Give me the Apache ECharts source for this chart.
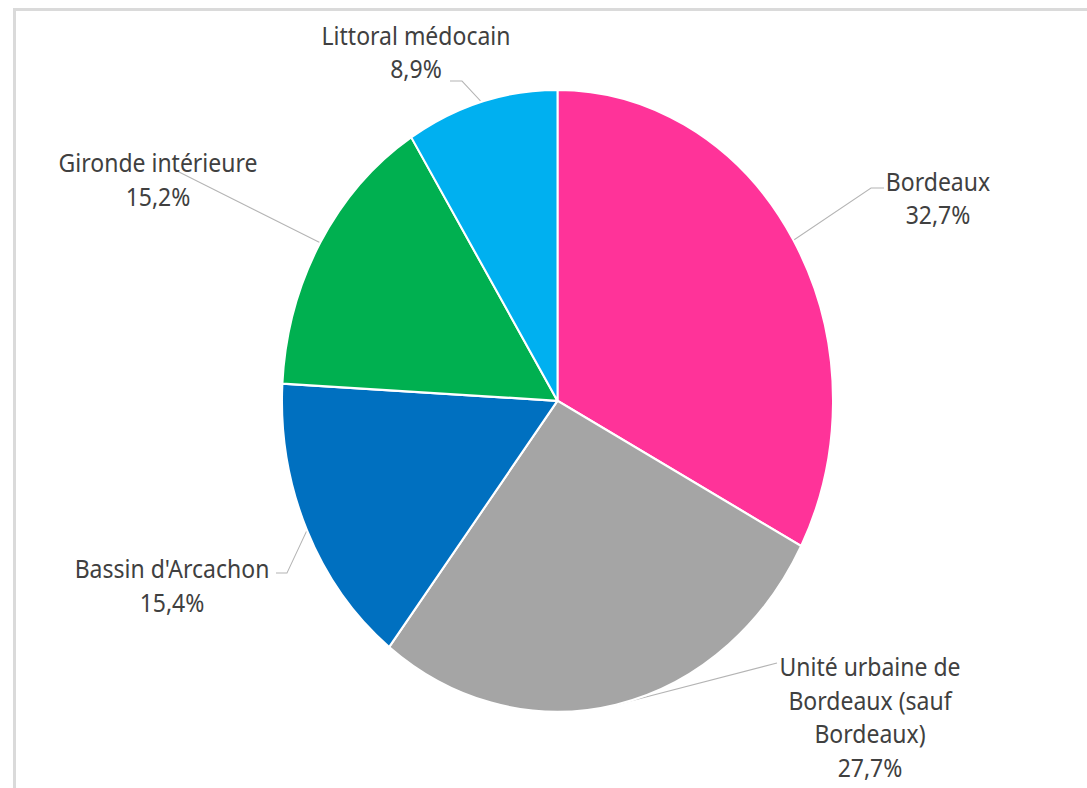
<!DOCTYPE html>
<html>
<head>
<meta charset="utf-8">
<script src="https://cdn.jsdelivr.net/npm/echarts@6/dist/echarts.min.js"></script>
<style>
  html, body { margin: 0; padding: 0; background: #ffffff; overflow: hidden; }
  #frame { position: absolute; left: 13px; top: 8px; width: 1200px; height: 900px;
           border-left: 3px solid #dadada; border-top: 3px solid #dadada; box-sizing: border-box; }
  #chart { position: absolute; left: 0; top: 0; width: 1087px; height: 698px;
           transform: scaleY(1.129); transform-origin: 0 0; }
</style>
</head>
<body>
<div id="frame"></div>
<div id="chart"></div>
<script>
// Data
const categories = [
  'Bordeaux',
  'Unité urbaine de\nBordeaux (sauf\nBordeaux)',
  "Bassin d'Arcachon",
  'Gironde intérieure',
  'Littoral médocain'
];
const values = [32.7, 27.7, 15.4, 15.2, 8.9];
const colors = ['#FF3399', '#A5A5A5', '#0070C0', '#00B050', '#00B0F0'];

// label placement (chart pixel space, before vertical stretch)
const SY = 1.129;
const labelPos = [
  { x: 938, y: 197.5 / SY, line: [[871, 188], [884, 188]] },
  { x: 870, y: 716.5 / SY, line: [[777, 663]] },
  { x: 172, y: 585 / SY,   line: [[287, 573], [276, 573]] },
  { x: 158, y: 179 / SY,   line: [[177, 171]] },
  { x: 416, y: 51.5 / SY,  line: [[462, 81], [450, 81]] }
];

const chart = echarts.init(document.getElementById('chart'), null, { renderer: 'svg' });
chart.setOption({
  backgroundColor: 'transparent',
  animation: false,
  series: [{
    type: 'pie',
    center: [557.5, 355],
    radius: 275.5,
    startAngle: 90,
    clockwise: true,
    avoidLabelOverlap: false,
    data: categories.map((c, i) => ({
      name: c, value: values[i], itemStyle: { color: colors[i] }
    })),
    itemStyle: { borderColor: '#ffffff', borderWidth: 2 },
    label: {
      show: true,
      position: 'outside',
      formatter: p => p.name + '\n' + p.value.toFixed(1).replace('.', ',') + '%',
      color: '#404040',
      fontFamily: 'Noto Sans',
      fontSize: 23,
      lineHeight: 30,
      align: 'center'
    },
    labelLine: {
      show: true,
      lineStyle: { color: '#b4b4b4', width: 1 }
    },
    labelLayout: function (params) {
      const lp = labelPos[params.dataIndex];
      const res = { x: lp.x, y: lp.y, align: 'center', verticalAlign: 'middle' };
      if (params.labelLinePoints && params.labelLinePoints.length) {
        const start = params.labelLinePoints[0];
        res.labelLinePoints = [start].concat(lp.line.map(pt => [pt[0], pt[1] / SY]));
      }
      return res;
    },
    emphasis: { disabled: true }
  }]
});
</script>
</body>
</html>
